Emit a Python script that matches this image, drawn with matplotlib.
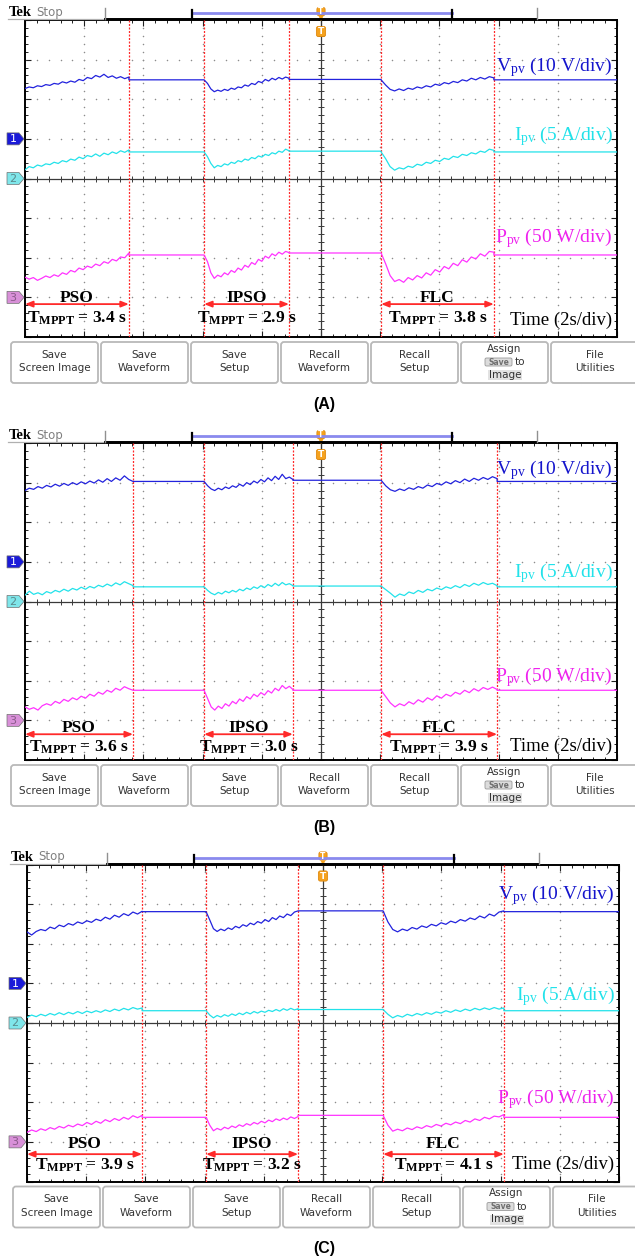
import numpy as np
import matplotlib
matplotlib.use("Agg")
import matplotlib.pyplot as plt
from matplotlib.patches import FancyBboxPatch, Polygon

plt.rcParams["mathtext.fontset"] = "custom"
plt.rcParams["mathtext.rm"] = "Liberation Serif"
plt.rcParams["mathtext.it"] = "Liberation Serif:italic"
plt.rcParams["mathtext.bf"] = "Liberation Serif:bold"

# ------------------------------------------------------------------ data
captions = ["(A)", "(B)", "(C)"]
methods = ["PSO", "IPSO", "FLC"]
tmppt_A = [3.4, 2.9, 3.8]
tmppt_B = [3.6, 3.0, 3.9]
tmppt_C = [3.9, 3.2, 4.1]
channel_labels = [r"V$_{\rm pv}$ (10 V/div)", r"I$_{\rm pv}$ (5 A/div)",
                  r"P$_{\rm pv}$ (50 W/div)"]
time_label = "Time (2s/div)"
channel_refs = [1, 0, -3]          # channel ground markers (div)
channel_ids = ["1", "2", "3"]
menu_labels = ["Save\nScreen Image", "Save\nWaveform", "Save\nSetup",
               "Recall\nWaveform", "Recall\nSetup", "Assign", "File\nUtilities"]

# event times (s): PSO start/settle, IPSO start/settle, FLC start/settle
events_A = [0.0, 3.51, 6.05, 8.92, 12.03, 15.84]
events_B = [0.0, 3.65, 6.05, 9.05, 12.03, 15.95]
events_C = [0.0, 3.89, 6.05, 9.16, 12.03, 16.11]

# waveforms in screen divisions (transients) and steady levels after each
A_vpv_pso = [2.27, 2.31, 2.29, 2.34, 2.32, 2.37, 2.35, 2.40, 2.38, 2.44, 2.41, 2.46, 2.43,
             2.50, 2.47, 2.55, 2.52, 2.60, 2.56, 2.63, 2.55, 2.59, 2.53, 2.57, 2.52, 2.56]
A_vpv_ipso = [2.49, 2.40, 2.26, 2.19, 2.23, 2.20, 2.25, 2.22, 2.28, 2.25, 2.31, 2.29, 2.36,
              2.33, 2.40, 2.37, 2.45, 2.42, 2.50, 2.46, 2.53, 2.49, 2.55, 2.51, 2.56, 2.53]
A_vpv_flc = [2.49, 2.36, 2.25, 2.21, 2.26, 2.22, 2.28, 2.25, 2.31, 2.28, 2.34, 2.31, 2.38,
             2.35, 2.42, 2.39, 2.45, 2.42, 2.49, 2.46, 2.53, 2.49, 2.55, 2.51, 2.57, 2.54]
A_vpv_hold = [2.49, 2.50, 2.49]
A_ipv_pso = [0.22, 0.30, 0.27, 0.34, 0.31, 0.37, 0.35, 0.41, 0.38, 0.45, 0.42, 0.49, 0.46,
             0.54, 0.50, 0.58, 0.55, 0.62, 0.56, 0.64, 0.60, 0.67, 0.63, 0.70, 0.66, 0.72]
A_ipv_ipso = [0.67, 0.55, 0.38, 0.27, 0.33, 0.30, 0.37, 0.34, 0.41, 0.38, 0.45, 0.42, 0.49,
              0.46, 0.53, 0.50, 0.57, 0.54, 0.61, 0.58, 0.65, 0.62, 0.69, 0.66, 0.74, 0.70]
A_ipv_flc = [0.67, 0.50, 0.30, 0.21, 0.27, 0.24, 0.31, 0.28, 0.36, 0.33, 0.41, 0.38, 0.46,
             0.43, 0.51, 0.48, 0.56, 0.53, 0.61, 0.58, 0.65, 0.62, 0.69, 0.66, 0.74, 0.71]
A_ipv_hold = [0.67, 0.69, 0.67]
A_ppv_pso = [-2.49, -2.54, -2.50, -2.57, -2.52, -2.46, -2.50, -2.43, -2.47, -2.38, -2.42, -2.32,
             -2.36, -2.26, -2.30, -2.21, -2.25, -2.16, -2.20, -2.10, -2.14, -2.04, -2.08, -1.98,
             -2.00, -1.88]
A_ppv_ipso = [-1.93, -2.10, -2.38, -2.52, -2.44, -2.48, -2.38, -2.43, -2.32, -2.37, -2.26,
              -2.31, -2.19, -2.24, -2.12, -2.17, -2.04, -2.09, -1.96, -2.01, -1.90, -1.95,
              -1.86, -1.91, -1.84, -1.87]
A_ppv_flc = [-1.88, -2.15, -2.45, -2.60, -2.55, -2.62, -2.50, -2.56, -2.45, -2.51, -2.38, -2.44,
             -2.30, -2.36, -2.22, -2.28, -2.14, -2.20, -2.05, -2.11, -1.98, -2.03, -1.90, -1.96,
             -1.84, -1.86]
A_ppv_hold = [-1.93, -1.88, -1.93]

B_vpv_pso = [2.80, 2.86, 2.83, 2.90, 2.86, 2.93, 2.89, 2.96, 2.91, 2.98, 2.93, 3.00, 2.95,
             3.02, 2.97, 3.04, 2.99, 3.07, 3.01, 3.10, 3.03, 3.12, 3.06, 3.17, 3.08, 3.03]
B_vpv_ipso = [3.03, 2.92, 2.84, 2.80, 2.86, 2.82, 2.89, 2.85, 2.92, 2.88, 2.96, 2.91, 3.00,
              2.95, 3.04, 2.99, 3.08, 3.02, 3.12, 3.05, 3.16, 3.08, 3.21, 3.10, 3.14, 3.08]
B_vpv_flc = [3.06, 2.92, 2.82, 2.78, 2.84, 2.80, 2.87, 2.83, 2.90, 2.86, 2.94, 2.90, 2.98,
             2.94, 3.02, 2.97, 3.05, 3.00, 3.09, 3.03, 3.11, 3.06, 3.13, 3.08, 3.15, 3.10]
B_vpv_hold = [3.03, 3.06, 3.03]
B_ipv_pso = [0.16, 0.26, 0.18, 0.22, 0.17, 0.25, 0.21, 0.28, 0.24, 0.31, 0.26, 0.33, 0.29,
             0.36, 0.31, 0.38, 0.34, 0.41, 0.37, 0.44, 0.39, 0.47, 0.42, 0.50, 0.45, 0.40]
B_ipv_ipso = [0.37, 0.28, 0.21, 0.17, 0.23, 0.19, 0.26, 0.22, 0.28, 0.24, 0.31, 0.27, 0.34,
              0.30, 0.37, 0.33, 0.40, 0.35, 0.43, 0.38, 0.46, 0.40, 0.48, 0.42, 0.45, 0.40]
B_ipv_flc = [0.39, 0.30, 0.21, 0.11, 0.19, 0.15, 0.24, 0.20, 0.28, 0.23, 0.31, 0.27, 0.34,
             0.30, 0.37, 0.33, 0.40, 0.35, 0.43, 0.38, 0.46, 0.41, 0.48, 0.43, 0.46, 0.40]
B_ipv_hold = [0.37, 0.39, 0.37]
B_ppv_pso = [-2.66, -2.72, -2.68, -2.74, -2.63, -2.58, -2.62, -2.52, -2.57, -2.47, -2.52, -2.43,
             -2.48, -2.39, -2.44, -2.34, -2.39, -2.29, -2.34, -2.24, -2.29, -2.19, -2.24, -2.15,
             -2.20, -2.24]
B_ppv_ipso = [-2.24, -2.45, -2.66, -2.74, -2.64, -2.70, -2.58, -2.64, -2.52, -2.58, -2.46,
              -2.52, -2.40, -2.46, -2.34, -2.40, -2.30, -2.36, -2.25, -2.31, -2.19, -2.25,
              -2.12, -2.20, -2.14, -2.22]
B_ppv_flc = [-2.24, -2.40, -2.56, -2.66, -2.58, -2.63, -2.53, -2.59, -2.48, -2.54, -2.43, -2.49,
             -2.38, -2.44, -2.34, -2.39, -2.29, -2.34, -2.24, -2.30, -2.20, -2.26, -2.17, -2.22,
             -2.16, -2.22]
B_ppv_hold = [-2.24, -2.24, -2.24]

C_vpv_pso = [2.30, 2.22, 2.31, 2.36, 2.33, 2.42, 2.38, 2.47, 2.43, 2.51, 2.47, 2.55, 2.51,
             2.58, 2.54, 2.62, 2.58, 2.67, 2.62, 2.72, 2.67, 2.76, 2.71, 2.80, 2.75, 2.82]
C_vpv_ipso = [2.81, 2.60, 2.38, 2.31, 2.37, 2.33, 2.40, 2.36, 2.44, 2.40, 2.48, 2.44, 2.52,
              2.48, 2.56, 2.52, 2.61, 2.56, 2.66, 2.61, 2.70, 2.66, 2.75, 2.71, 2.80, 2.83]
C_vpv_flc = [2.83, 2.55, 2.36, 2.30, 2.37, 2.33, 2.41, 2.37, 2.45, 2.41, 2.49, 2.45, 2.53,
             2.49, 2.57, 2.53, 2.61, 2.57, 2.65, 2.61, 2.70, 2.65, 2.75, 2.70, 2.80, 2.83]
C_vpv_hold = [2.81, 2.83, 2.81]
C_ipv_pso = [0.14, 0.20, 0.16, 0.22, 0.18, 0.24, 0.20, 0.26, 0.21, 0.27, 0.23, 0.29, 0.24,
             0.30, 0.26, 0.31, 0.27, 0.33, 0.29, 0.35, 0.31, 0.37, 0.33, 0.39, 0.35, 0.38]
C_ipv_ipso = [0.31, 0.20, 0.13, 0.19, 0.15, 0.21, 0.17, 0.23, 0.19, 0.25, 0.21, 0.27, 0.23,
              0.29, 0.25, 0.30, 0.27, 0.32, 0.29, 0.34, 0.30, 0.36, 0.32, 0.37, 0.33, 0.36]
C_ipv_flc = [0.34, 0.22, 0.13, 0.19, 0.15, 0.22, 0.18, 0.24, 0.20, 0.26, 0.22, 0.28, 0.25,
             0.31, 0.27, 0.33, 0.29, 0.35, 0.31, 0.37, 0.33, 0.38, 0.34, 0.39, 0.35, 0.38]
C_ipv_hold = [0.31, 0.34, 0.31]
C_ppv_pso = [-2.76, -2.70, -2.74, -2.67, -2.71, -2.64, -2.68, -2.61, -2.65, -2.58, -2.62, -2.55,
             -2.59, -2.51, -2.56, -2.48, -2.53, -2.44, -2.49, -2.41, -2.46, -2.38, -2.43, -2.34,
             -2.39, -2.33]
C_ppv_ipso = [-2.38, -2.58, -2.72, -2.66, -2.70, -2.63, -2.67, -2.60, -2.64, -2.57, -2.61,
              -2.54, -2.58, -2.51, -2.55, -2.48, -2.52, -2.45, -2.49, -2.42, -2.46, -2.40,
              -2.44, -2.37, -2.41, -2.36]
C_ppv_flc = [-2.33, -2.58, -2.73, -2.68, -2.72, -2.65, -2.69, -2.62, -2.66, -2.59, -2.63, -2.56,
             -2.60, -2.53, -2.57, -2.50, -2.54, -2.46, -2.50, -2.42, -2.46, -2.38, -2.42, -2.35,
             -2.37, -2.31]
C_ppv_hold = [-2.38, -2.33, -2.38]

panels = [
    dict(events=events_A, tm=tmppt_A,
         ch=[([A_vpv_pso, A_vpv_ipso, A_vpv_flc], A_vpv_hold),
             ([A_ipv_pso, A_ipv_ipso, A_ipv_flc], A_ipv_hold),
             ([A_ppv_pso, A_ppv_ipso, A_ppv_flc], A_ppv_hold)]),
    dict(events=events_B, tm=tmppt_B,
         ch=[([B_vpv_pso, B_vpv_ipso, B_vpv_flc], B_vpv_hold),
             ([B_ipv_pso, B_ipv_ipso, B_ipv_flc], B_ipv_hold),
             ([B_ppv_pso, B_ppv_ipso, B_ppv_flc], B_ppv_hold)]),
    dict(events=events_C, tm=tmppt_C,
         ch=[([C_vpv_pso, C_vpv_ipso, C_vpv_flc], C_vpv_hold),
             ([C_ipv_pso, C_ipv_ipso, C_ipv_flc], C_ipv_hold),
             ([C_ppv_pso, C_ppv_ipso, C_ppv_flc], C_ppv_hold)]),
]

# ------------------------------------------------------------------ layout / style
W, H = 635, 1259
tops = [20, 443, 864.5]
lefts = [25, 25, 27]
PW, PH = 592, 317
label_y = [[2.70, 0.97, -1.60, -3.70], [3.22, 0.60, -2.02, -3.78], [3.11, 0.57, -2.03, -3.69]]
meth_y = [(-3.12, -3.17, -3.64), (-3.29, -3.35, -3.79), (-3.16, -3.31, -3.69)]
line_colors = ["#2222dd", "#22e2ea", "#ff33ff"]
text_colors = ["#1515cc", "#22e2ea", "#ee22ee"]
marker_fc = ["#1a1ad8", "#7fe6ea", "#d890d8"]
marker_tc = ["#ffffff", "#5a8a8c", "#8a5a8a"]
RED = "#ff2a2a"
SERIF = "Liberation Serif"

fig = plt.figure(figsize=(W / 100, H / 100), dpi=100)
ov = fig.add_axes([0, 0, 1, 1], zorder=5)
ov.set_xlim(0, W)
ov.set_ylim(H, 0)
ov.axis("off")
ov.patch.set_alpha(0)


def build(events, segs, holds):
    ts, ys = [], []
    for k in range(3):
        t0, t1 = events[2 * k], events[2 * k + 1]
        vals = segs[k]
        ts.extend(np.linspace(t0, t1, len(vals)))
        ys.extend(vals)
        t2 = events[2 * k + 2] if k < 2 else 20.0
        ts.extend([t1, t2])
        ys.extend([holds[k], holds[k]])
    return np.array(ts), np.array(ys)


for p, pan in enumerate(panels):
    top, left = tops[p], lefts[p]
    ax = fig.add_axes([left / W, 1 - (top + PH) / H, PW / W, PH / H], zorder=2)
    ax.set_xlim(0, 20)
    ax.set_ylim(-4, 4)
    ax.set_xticks(np.arange(0, 21, 2))
    ax.set_xticks(np.arange(0, 20.01, 0.4), minor=True)
    ax.set_yticks(np.arange(-4, 5, 1))
    ax.set_yticks(np.arange(-4, 4.01, 0.2), minor=True)
    ax.tick_params(which="both", direction="in", top=True, right=True,
                   labelbottom=False, labelleft=False, color="#202020")
    ax.tick_params(which="major", length=4, width=0.8)
    ax.tick_params(which="minor", length=2.5, width=0.7)
    for s in ax.spines.values():
        s.set_linewidth(1.4)
        s.set_color("black")

    # dotted graticule
    minor_t = np.arange(0, 20.01, 0.4)
    minor_d = np.arange(-4, 4.01, 0.2)
    for gx in np.arange(2, 20, 2):
        if gx == 10:
            continue
        ax.plot(np.full_like(minor_d, gx), minor_d, ls="none", marker="o", ms=1.1,
                mfc="#8c8c8c", mec="none")
    for gy in np.arange(-3, 4, 1):
        if gy == 0:
            continue
        ax.plot(minor_t, np.full_like(minor_t, gy), ls="none", marker="o", ms=1.1,
                mfc="#8c8c8c", mec="none")
    # centre cross with ticks
    ax.axhline(0, color="#3a3a3a", lw=0.9)
    ax.axvline(10, color="#3a3a3a", lw=0.9)
    ax.plot(minor_t, np.zeros_like(minor_t), ls="none", marker="|", ms=5, mew=0.7,
            color="#3a3a3a")
    ax.plot(np.full_like(minor_d, 10), minor_d, ls="none", marker="_", ms=5, mew=0.7,
            color="#3a3a3a")

    ev = pan["events"]
    for tx in ev[1:]:
        ax.axvline(tx, color=RED, lw=0.9, ls=(0, (1.6, 1.2)), zorder=3)

    for c, (segs, holds) in enumerate(pan["ch"]):
        t, y = build(ev, segs, holds)
        ax.plot(t, y, color=line_colors[c], lw=0.9, zorder=4)
        ax.text(19.85, label_y[p][c], channel_labels[c], color=text_colors[c],
                ha="right", va="baseline", fontsize=14, family=SERIF, zorder=6)
    ax.text(19.85, label_y[p][3], time_label, color="black", ha="right",
            va="baseline", fontsize=13.5, family=SERIF, zorder=6)

    ty, ay, tmy = meth_y[p]
    for k in range(3):
        t0, t1 = ev[2 * k], ev[2 * k + 1]
        xm = 0.5 * (t0 + t1)
        ax.annotate("", xy=(t1, ay), xytext=(t0, ay),
                    arrowprops=dict(arrowstyle="<|-|>,head_length=0.45,head_width=0.18",
                                    color=RED, lw=1.3, shrinkA=0, shrinkB=0), zorder=6)
        ax.text(xm, ty, methods[k], ha="center", va="baseline", fontsize=12.5,
                fontweight="bold", family=SERIF, zorder=6)
        ax.text(xm, tmy, r"$\mathbf{T_{MPPT}}$" + f" = {pan['tm'][k]:.1f} s",
                ha="center", va="baseline", fontsize=12.5, fontweight="bold",
                family=SERIF, zorder=6)

    # ---------------- header bar
    ov.text(left - 16, top - 4, "Tek", fontsize=10.5, fontweight="bold", family=SERIF,
            va="baseline", ha="left")
    ov.text(left + 11, top - 4.5, "Stop", fontsize=8.5, color="#808080", va="baseline",
            ha="left")
    ov.plot([left - 17, left + 80], [top - 1, top - 1], color="#b0b0b0", lw=0.9)
    ov.plot([left + 80, left + 512], [top - 1, top - 1], color="black", lw=1.4)
    for bx in (left + 80, left + 512):
        ov.plot([bx, bx], [top - 12, top - 1], color="#909090", lw=1.0)
    ov.plot([left + 167, left + 427], [top - 7, top - 7], color="#8a8aee", lw=2.0)
    for bx in (left + 167, left + 427):
        ov.plot([bx, bx], [top - 10, top - 1], color="black", lw=1.6)
    # trigger markers
    tx = left + 296
    ov.add_patch(FancyBboxPatch((tx - 3.5, top - 12), 7, 7,
                                boxstyle="round,pad=0.6,rounding_size=2",
                                fc="#f5a21e", ec="#e08a10", lw=0.6))
    ov.text(tx, top - 8.3, "T", fontsize=5.5, color="white", fontweight="bold",
            ha="center", va="center")
    ov.add_patch(Polygon([[tx - 2.5, top - 4], [tx + 2.5, top - 4], [tx, top + 1]],
                         closed=True, fc="#f5a21e", ec="none"))
    ov.add_patch(FancyBboxPatch((tx - 4, top + 7), 8, 9,
                                boxstyle="round,pad=0.6,rounding_size=2",
                                fc="#f5a21e", ec="#e08a10", lw=0.6))
    ov.text(tx, top + 11.5, "T", fontsize=6.5, color="white", fontweight="bold",
            ha="center", va="center")

    # channel reference markers
    for c in range(3):
        yp = top + (4 - channel_refs[c]) * PH / 8
        x0, x1 = left - 18, left - 1
        ov.add_patch(Polygon([[x0, yp - 6], [x1 - 5, yp - 6], [x1, yp],
                              [x1 - 5, yp + 6], [x0, yp + 6]], closed=True,
                             fc=marker_fc[c], ec="#707070", lw=0.5))
        ov.text(x0 + 6, yp + 0.5, channel_ids[c], fontsize=8, color=marker_tc[c],
                ha="center", va="center")

    # ---------------- menu buttons
    by = top + 322
    for i, lab in enumerate(menu_labels):
        bx = left - 14 + 90 * i
        ov.add_patch(FancyBboxPatch((bx, by), 87, 41,
                                    boxstyle="round,pad=0,rounding_size=3",
                                    fc="white", ec="#b9b9b9", lw=1.3))
        cx = bx + 43.5
        if lab == "Assign":
            ov.text(cx, by + 6.5, "Assign", fontsize=7.5, color="#333333",
                    ha="center", va="center")
            ov.add_patch(FancyBboxPatch((bx + 24, by + 16), 27, 8,
                                        boxstyle="round,pad=0,rounding_size=1.5",
                                        fc="#dcdcdc", ec="#9a9a9a", lw=0.6))
            ov.text(bx + 37.5, by + 20, "Save", fontsize=5.5, color="#707070",
                    ha="center", va="center", fontweight="bold")
            ov.text(bx + 59, by + 20, "to", fontsize=7.5, color="#333333",
                    ha="center", va="center")
            ov.add_patch(FancyBboxPatch((bx + 27, by + 28), 34, 10,
                                        boxstyle="square,pad=0",
                                        fc="#e2e2e2", ec="none"))
            ov.text(bx + 44, by + 33, "Image", fontsize=7.5, color="#333333",
                    ha="center", va="center")
        else:
            l1, l2 = lab.split("\n")
            ov.text(cx, by + 13, l1, fontsize=7.5, color="#333333", ha="center",
                    va="center")
            ov.text(cx, by + 26, l2, fontsize=7.5, color="#333333", ha="center",
                    va="center")

    ov.text(324, top + 384, captions[p], fontsize=11.5, fontweight="bold",
            family="Liberation Sans", ha="center", va="center")

fig.savefig("out.png", dpi=100)
